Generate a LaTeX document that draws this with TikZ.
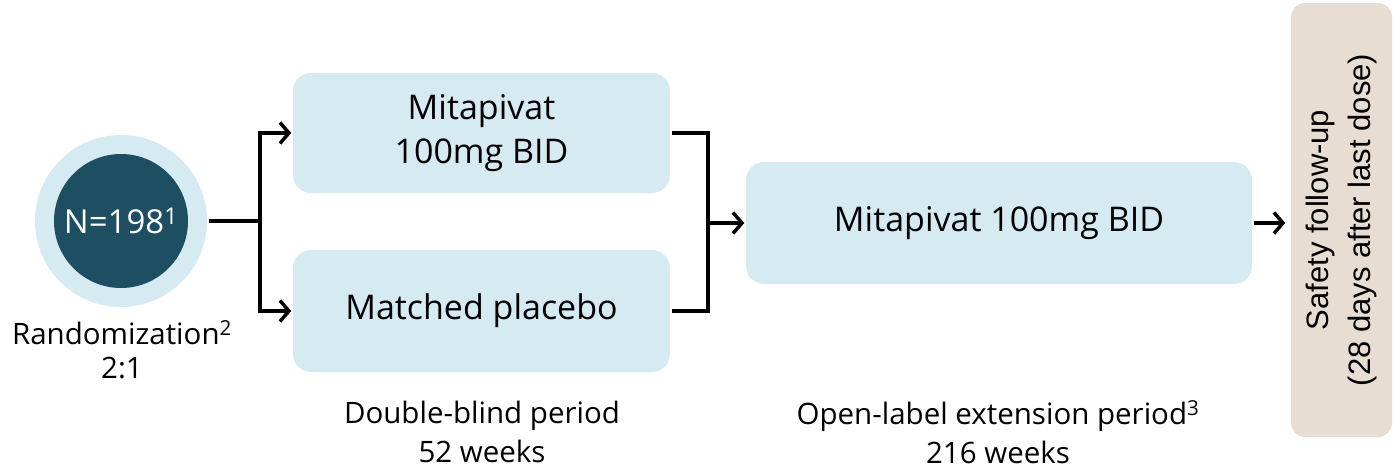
\documentclass[tikz,border=0pt]{standalone}
\usepackage{fontspec}
\setmainfont{Open Sans}
\newfontfamily\arialfont{Liberation Sans}
\usetikzlibrary{arrows.meta}
\usetikzlibrary{calc}
\usetikzlibrary{positioning}
\tikzset{>={Straight Barb[length=9pt,width=21pt]}}
\definecolor{armblue}{HTML}{D6EAF2}
\definecolor{nteal}{HTML}{1D4E62}
\definecolor{safebeige}{HTML}{E7DDD3}

\begin{document}
\begin{tikzpicture}[x=1pt,y=-1pt,line width=3.5pt,
  arm/.style={fill=armblue,rounded corners=18pt,minimum width=377pt,minimum height=120pt,align=center,font=\fontsize{34}{44}\selectfont},
  note/.style={align=center,font=\fontsize{29.5}{39}\selectfont}]
\useasboundingbox (0,0) rectangle (1397,469);

\node (outer) [circle,fill=armblue,minimum size=172pt,inner sep=0pt] at (121,221) {};
\node (nrand) [circle,fill=nteal,minimum size=134pt,inner sep=0pt,text=white,font=\fontsize{33}{36}\selectfont] at (outer.center) {N=198\textsuperscript{1}};
\node (rand) [note,font=\fontsize{29.5}{34}\selectfont] at (122,350) {Randomization\textsuperscript{2}\\2:1};

\node (mita) [arm] at (481.5,133) {Mitapivat\\100mg BID};
\node (plac) [arm,minimum height=122pt] at (481.5,311) {Matched placebo};
\node (ole) [arm,minimum width=506pt,minimum height=122pt] at (999,223) {Mitapivat 100mg BID};
\node (safety) [fill=safebeige,rounded corners=14pt,minimum width=434pt,minimum height=101pt,rotate=90,align=center,font=\arialfont\fontsize{31}{42}\selectfont] at (1341.5,220) {Safety follow-up\\(28 days after last dose)};

\node (dbp) [note] at (482,432) {Double-blind period\\52 weeks};
\node (olep) [note] at (998,432) {Open-label extension period\textsuperscript{3}\\216 weeks};

\coordinate [right=51pt of outer.east] (split);
\coordinate (join) at (708,223);

\draw (outer) -- (split);
\draw [->] (split) |- (mita.west);
\draw [->] (split) |- (plac.west);
\draw (mita.east) -| (join) |- (plac.east);
\draw [->] (join) -- (ole.west);
\draw [->,shorten >=4pt] (ole.east) -- (ole.east -| safety.north);

\end{tikzpicture}
\end{document}
